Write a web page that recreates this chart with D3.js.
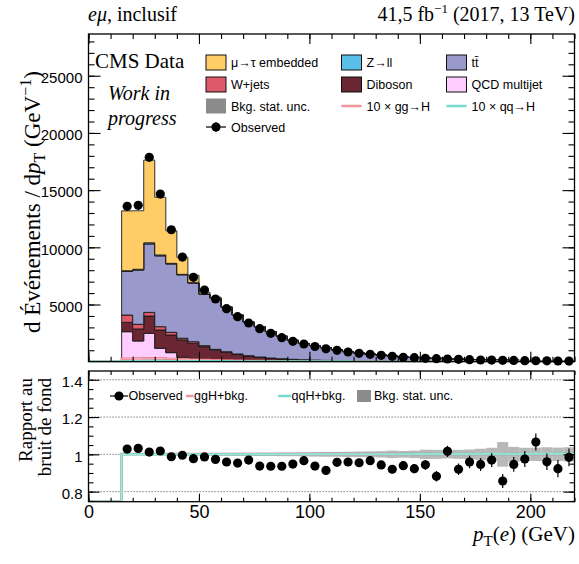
<!DOCTYPE html>
<html>
<head>
<meta charset="utf-8">
<script src="https://cdn.jsdelivr.net/npm/d3@7"></script>
<style>
body { margin: 0; background: #fff; }
svg { display: block; }
.serif { font-family: "Liberation Serif", "Times New Roman", serif; }
.sans, .tick text { font-family: "Liberation Sans", Arial, sans-serif; }
</style>
</head>
<body>
<div id="chart"></div>
<script>
// Data: 5 GeV bins from 15 to 220 GeV
var binLow = d3.range(15, 220, 5);
var binWidth = 5;

var observed = [13580, 13670, 17865, 14657, 11537, 9151, 7377, 6267, 5480, 4632,
  3933, 3382, 2884, 2482, 2098, 1783, 1547, 1328, 1127, 996,
  848, 734, 647, 559, 472, 385, 350, 297, 262, 236,
  210, 175, 149, 140, 122, 114, 87, 82, 78, 61, 58];

var qcd = [2620, 1810, 2480, 1170, 790, 390, 210, 120, 80, 60,
  45, 35, 28, 22, 18, 15, 12, 10, 8, 7,
  6, 5, 4, 4, 3, 3, 2, 2, 2, 2,
  1, 1, 1, 1, 1, 1, 1, 1, 1, 1, 1];
var diboson = [820, 1050, 1510, 1600, 1540, 1510, 1400, 1190, 930, 760,
  590, 455, 353, 276, 224, 177, 145, 120, 100, 85,
  70, 60, 50, 42, 36, 30, 26, 22, 19, 16,
  14, 12, 10, 9, 8, 7, 6, 5, 5, 4, 4];
var wjets = [640, 410, 320, 290, 240, 150, 140, 90, 70, 50,
  40, 35, 30, 25, 20, 18, 15, 12, 10, 9,
  8, 7, 6, 5, 5, 4, 4, 3, 3, 3,
  2, 2, 2, 2, 2, 2, 1, 1, 1, 1, 1];
var ttbar = [3810, 4730, 5980, 6190, 5970, 5540, 5120, 4490, 4450, 3890,
  3400, 2930, 2640, 2300, 1960, 1655, 1415, 1265, 1105, 935,
  795, 690, 605, 540, 465, 375, 340, 290, 270, 215,
  210, 170, 150, 135, 130, 112, 85, 75, 75, 62, 56];
var zll = [60, 80, 100, 80, 60, 50, 40, 30, 25, 20,
  15, 12, 10, 8, 7, 6, 5, 4, 4, 3,
  3, 2, 2, 2, 2, 1, 1, 1, 1, 1,
  1, 1, 1, 1, 1, 1, 1, 1, 1, 1, 1];
var embedded = [5240, 5120, 7230, 5040, 2850, 1490, 650, 140, 80, 50,
  35, 25, 20, 15, 12, 10, 8, 6, 5, 4,
  3, 3, 2, 2, 2, 1, 1, 1, 1, 1,
  1, 1, 1, 1, 1, 1, 1, 1, 1, 1, 1];

// signal x10
var ggH10 = [270, 290, 300, 280, 250, 210, 180, 150, 125, 105,
  90, 75, 62, 52, 44, 37, 31, 26, 22, 18,
  15, 13, 11, 9, 8, 7, 6, 5, 4, 4,
  3, 3, 2, 2, 2, 2, 1, 1, 1, 1, 1];
var qqH10 = [45, 50, 55, 55, 52, 48, 45, 42, 38, 35,
  32, 29, 26, 23, 21, 19, 17, 15, 13, 12,
  11, 10, 9, 8, 7, 6, 6, 5, 5, 4,
  4, 3, 3, 3, 3, 2, 2, 2, 2, 2, 2];

// ratio panel
var ratio = [1.028, 1.032, 1.012, 1.018, 0.987, 0.995, 0.977, 0.986, 0.973, 0.959,
  0.953, 0.969, 0.937, 0.936, 0.936, 0.948, 0.966, 0.937, 0.914, 0.957,
  0.959, 0.955, 0.966, 0.943, 0.920, 0.939, 0.923, 0.944, 0.882, 1.016,
  0.920, 0.959, 0.946, 0.969, 0.857, 0.946, 0.975, 1.066, 0.960, 0.923, 0.984];
var ratioErr = [0.004, 0.004, 0.004, 0.004, 0.005, 0.005, 0.006, 0.006, 0.007, 0.007,
  0.008, 0.009, 0.010, 0.010, 0.011, 0.012, 0.013, 0.014, 0.015, 0.016,
  0.017, 0.018, 0.019, 0.020, 0.021, 0.023, 0.024, 0.026, 0.028, 0.030,
  0.031, 0.033, 0.035, 0.037, 0.038, 0.040, 0.043, 0.046, 0.044, 0.046, 0.048];
var bkgUnc = [0.004, 0.004, 0.004, 0.004, 0.005, 0.005, 0.006, 0.006, 0.007, 0.007,
  0.008, 0.008, 0.009, 0.009, 0.010, 0.010, 0.011, 0.012, 0.013, 0.013,
  0.014, 0.015, 0.016, 0.017, 0.020, 0.018, 0.020, 0.025, 0.024, 0.022,
  0.024, 0.026, 0.030, 0.035, 0.066, 0.040, 0.035, 0.036, 0.038, 0.036, 0.038];

var xTicks = [0, 50, 100, 150, 200];
var yTicks = [5000, 10000, 15000, 20000, 25000];
var rTicks = [0.8, 1, 1.2, 1.4];

var keys = ['qcd', 'diboson', 'wjets', 'ttbar', 'zll', 'embedded'];
var colors = {
  embedded: '#ffcc66', zll: '#5cbfe8', ttbar: '#9999cc',
  wjets: '#de5a6a', diboson: '#6b2633', qcd: '#ffccff'
};

// Table built from the arrays
var series = { qcd: qcd, diboson: diboson, wjets: wjets, ttbar: ttbar, zll: zll, embedded: embedded };
var bins = binLow.map(function (lo, i) {
  var row = { lo: lo, hi: lo + binWidth, obs: observed[i], ratio: ratio[i], err: ratioErr[i], unc: bkgUnc[i],
    ggH: ggH10[i], qqH: qqH10[i] };
  keys.forEach(function (k) { row[k] = series[k][i]; });
  row.total = d3.sum(keys, function (k) { return row[k]; });
  return row;
});

// Layout
var width = 579, height = 564;
var left = 88.5, right = 574.5;
var topY0 = 34, topY1 = 361.7;
var ratY0 = 371, ratY1 = 501.7;

var svg = d3.select('#chart').append('svg')
  .attr('width', width)
  .attr('height', height);

var x = d3.scaleLinear().domain([0, 220]).range([left, right]);
var y = d3.scaleLinear().domain([0, 28650]).range([topY1, topY0]);
var yr = d3.scaleLinear().domain([0.746, 1.447]).range([ratY1, ratY0]);

var defs = svg.append('defs');
defs.append('clipPath').attr('id', 'clipTop').append('rect')
  .attr('x', left).attr('y', topY0).attr('width', right - left).attr('height', topY1 - topY0);
defs.append('clipPath').attr('id', 'clipRat').append('rect')
  .attr('x', left).attr('y', ratY0).attr('width', right - left).attr('height', ratY1 - ratY0);

// step helper: repeat last bin at its upper edge
function stepped(arr) {
  var last = arr[arr.length - 1];
  return arr.concat([Object.assign({}, last, { lo: last.hi })]);
}

// ---------- Top panel ----------
var gTop = svg.append('g').attr('clip-path', 'url(#clipTop)');

var stackData = d3.stack().keys(keys)(bins);

var area = d3.area()
  .curve(d3.curveStepAfter)
  .x(function (d) { return x(d.data.lo); })
  .y0(function (d) { return y(d[0]); })
  .y1(function (d) { return y(d[1]); });

stackData.forEach(function (layer) {
  var pts = layer.map(function (d) { return d; });
  var last = pts[pts.length - 1];
  var extra = [last[0], last[1]];
  extra.data = { lo: last.data.hi };
  pts.push(extra);
  gTop.append('path')
    .datum(pts)
    .attr('d', area)
    .attr('fill', colors[layer.key])
    .attr('stroke', '#1a1a1a')
    .attr('stroke-width', 0.9)
    .attr('stroke-linejoin', 'miter');
});

// bkg stat unc in top panel
gTop.selectAll('rect.unc')
  .data(bins)
  .enter()
  .append('rect')
  .attr('class', 'unc')
  .attr('x', function (d) { return x(d.lo); })
  .attr('width', function (d) { return x(d.hi) - x(d.lo); })
  .attr('y', function (d) { return y(d.total * (1 + d.unc)); })
  .attr('height', function (d) { return y(d.total * (1 - d.unc)) - y(d.total * (1 + d.unc)); })
  .attr('fill', '#888')
  .attr('opacity', 0.5);

// signal lines, drawn from 0 GeV
function sigLine(key, yScale, valueFn, floor) {
  var pts = [{ lo: 0, v: floor }].concat(stepped(bins).map(function (d) { return { lo: d.lo, v: valueFn(d) }; }));
  return d3.line()
    .curve(d3.curveStepAfter)
    .x(function (d) { return x(d.lo); })
    .y(function (d) { return yScale(Math.max(d.v, floor)); })(pts);
}

function drawSig(g, dPath, col, light) {
  g.append('path').attr('d', dPath).attr('fill', 'none').attr('stroke', col).attr('stroke-width', 2.4);
  g.append('path').attr('d', dPath).attr('fill', 'none').attr('stroke', light).attr('stroke-width', 0.8);
}

drawSig(gTop, sigLine('ggH', y, function (d) { return d.ggH; }, 0), '#e87880', '#f7c4c6');
drawSig(gTop, sigLine('qqH', y, function (d) { return d.qqH; }, 0), '#4fcdb9', '#b9efe6');

// observed points
var gObs = svg.append('g');
gObs.selectAll('line.err')
  .data(bins)
  .enter()
  .append('line')
  .attr('x1', function (d) { return x(d.lo + binWidth / 2); })
  .attr('x2', function (d) { return x(d.lo + binWidth / 2); })
  .attr('y1', function (d) { return y(d.obs * (1 + d.err)); })
  .attr('y2', function (d) { return y(d.obs * (1 - d.err)); })
  .attr('stroke', '#000')
  .attr('stroke-width', 1.2);
gObs.selectAll('circle')
  .data(bins)
  .enter()
  .append('circle')
  .attr('cx', function (d) { return x(d.lo + binWidth / 2); })
  .attr('cy', function (d) { return y(d.obs); })
  .attr('r', 4.6)
  .attr('fill', '#000');

// ---------- Ratio panel ----------
var gRat = svg.append('g').attr('clip-path', 'url(#clipRat)');

gRat.selectAll('line.grid')
  .data(rTicks)
  .enter()
  .append('line')
  .attr('x1', left).attr('x2', right)
  .attr('y1', function (d) { return yr(d); })
  .attr('y2', function (d) { return yr(d); })
  .attr('stroke', '#333')
  .attr('stroke-width', 0.8)
  .attr('stroke-dasharray', '1.2,1.8');

gRat.selectAll('rect.unc')
  .data(bins)
  .enter()
  .append('rect')
  .attr('x', function (d) { return x(d.lo); })
  .attr('width', function (d) { return x(d.hi) - x(d.lo); })
  .attr('y', function (d) { return yr(1 + d.unc); })
  .attr('height', function (d) { return yr(1 - d.unc) - yr(1 + d.unc); })
  .attr('fill', '#a6a6a6')
  .attr('opacity', 0.8);

var rFloor = 0.746;
drawSig(gRat, sigLine('ggH', yr, function (d) { return 1 + d.ggH / 10 / d.total; }, rFloor), '#e87880', '#f7c4c6');
drawSig(gRat, sigLine('qqH', yr, function (d) { return 1 + d.qqH / 10 / d.total; }, rFloor), '#6fd6c6', '#c4f1ea');

var gRObs = svg.append('g').attr('clip-path', 'url(#clipRat)');
gRObs.selectAll('line')
  .data(bins)
  .enter()
  .append('line')
  .attr('x1', function (d) { return x(d.lo + binWidth / 2); })
  .attr('x2', function (d) { return x(d.lo + binWidth / 2); })
  .attr('y1', function (d) { return yr(d.ratio + d.err); })
  .attr('y2', function (d) { return yr(d.ratio - d.err); })
  .attr('stroke', '#000')
  .attr('stroke-width', 1.2);
gRObs.selectAll('circle')
  .data(bins)
  .enter()
  .append('circle')
  .attr('cx', function (d) { return x(d.lo + binWidth / 2); })
  .attr('cy', function (d) { return yr(d.ratio); })
  .attr('r', 4.6)
  .attr('fill', '#000');

// ---------- Frames and axes ----------
function frame(y0, y1) {
  svg.append('rect')
    .attr('x', left).attr('y', y0)
    .attr('width', right - left).attr('height', y1 - y0)
    .attr('fill', 'none').attr('stroke', '#000').attr('stroke-width', 1.3);
}
frame(topY0, topY1);
frame(ratY0, ratY1);

var xMinor = d3.range(0, 221, 10);

function ticksOnly(axis, transform) {
  var g = svg.append('g').attr('transform', transform).call(axis);
  g.select('.domain').remove();
  g.selectAll('.tick line').attr('stroke', '#000').attr('stroke-width', 1.1);
  return g;
}

// top panel x ticks (no labels)
ticksOnly(d3.axisBottom(x).tickValues(xTicks).tickSize(-10).tickFormat(''), 'translate(0,' + topY1 + ')');
ticksOnly(d3.axisBottom(x).tickValues(xMinor).tickSize(-5).tickFormat(''), 'translate(0,' + topY1 + ')');
ticksOnly(d3.axisTop(x).tickValues(xTicks).tickSize(-10).tickFormat(''), 'translate(0,' + topY0 + ')');
ticksOnly(d3.axisTop(x).tickValues(xMinor).tickSize(-5).tickFormat(''), 'translate(0,' + topY0 + ')');

// top panel y ticks
var yMinor = d3.range(1000, 28651, 1000);
var gy = ticksOnly(d3.axisLeft(y).tickValues(yTicks).tickSize(-12).tickPadding(6).tickFormat(d3.format('d')), 'translate(' + left + ',0)');
gy.selectAll('.tick text').attr('font-size', 15).attr('fill', '#000').attr('dy', '0.45em');
ticksOnly(d3.axisLeft(y).tickValues(yMinor).tickSize(-6).tickFormat(''), 'translate(' + left + ',0)');
ticksOnly(d3.axisRight(y).tickValues(yTicks).tickSize(-12).tickFormat(''), 'translate(' + right + ',0)');
ticksOnly(d3.axisRight(y).tickValues(yMinor).tickSize(-6).tickFormat(''), 'translate(' + right + ',0)');

// ratio panel x ticks with labels
var gx = ticksOnly(d3.axisBottom(x).tickValues(xTicks).tickSize(-8).tickPadding(4).tickFormat(d3.format('d')), 'translate(0,' + ratY1 + ')');
gx.selectAll('.tick text').attr('font-size', 18).attr('fill', '#000');
ticksOnly(d3.axisBottom(x).tickValues(xMinor).tickSize(-4).tickFormat(''), 'translate(0,' + ratY1 + ')');
ticksOnly(d3.axisTop(x).tickValues(xTicks).tickSize(-8).tickFormat(''), 'translate(0,' + ratY0 + ')');
ticksOnly(d3.axisTop(x).tickValues(xMinor).tickSize(-4).tickFormat(''), 'translate(0,' + ratY0 + ')');

// ratio panel y ticks
var rMinor = d3.range(0.75, 1.45, 0.05);
var gyr = ticksOnly(d3.axisLeft(yr).tickValues(rTicks).tickSize(-11).tickPadding(6).tickFormat(function (d) { return d === 1 ? '1' : d3.format('.1f')(d); }), 'translate(' + left + ',0)');
gyr.selectAll('.tick text').attr('font-size', 15).attr('fill', '#000').attr('dy', '0.45em');
ticksOnly(d3.axisLeft(yr).tickValues(rMinor).tickSize(-5).tickFormat(''), 'translate(' + left + ',0)');
ticksOnly(d3.axisRight(yr).tickValues(rTicks).tickSize(-11).tickFormat(''), 'translate(' + right + ',0)');
ticksOnly(d3.axisRight(yr).tickValues(rMinor).tickSize(-5).tickFormat(''), 'translate(' + right + ',0)');

// ---------- Texts ----------
var t1 = svg.append('text').attr('class', 'serif').attr('x', 88).attr('y', 21).attr('font-size', 20);
t1.append('tspan').attr('font-style', 'italic').text('eμ');
t1.append('tspan').text(', inclusif');

var t2 = svg.append('text').attr('class', 'serif').attr('x', 575).attr('y', 21).attr('font-size', 20).attr('text-anchor', 'end');
t2.append('tspan').text('41,5 fb');
t2.append('tspan').attr('font-size', 13).attr('dy', -8).text('−1');
t2.append('tspan').attr('dy', 8).text(' (2017, 13 TeV)');

svg.append('text').attr('class', 'serif').attr('x', 95).attr('y', 68).attr('font-size', 21).text('CMS Data');
svg.append('text').attr('class', 'serif').attr('x', 108).attr('y', 100).attr('font-size', 20).attr('font-style', 'italic').text('Work  in');
svg.append('text').attr('class', 'serif').attr('x', 108).attr('y', 125).attr('font-size', 20).attr('font-style', 'italic').text('progress');

// y title
var yt = svg.append('text').attr('class', 'serif')
  .attr('transform', 'translate(40,333) rotate(-90)')
  .attr('font-size', 23);
yt.append('tspan').text('d Événements / d');
yt.append('tspan').attr('font-style', 'italic').text('p');
yt.append('tspan').attr('font-size', 16).attr('dy', 5).text('T');
yt.append('tspan').attr('dy', -5).text(' (GeV');
yt.append('tspan').attr('font-size', 16).attr('dy', -9).text('−1');
yt.append('tspan').attr('dy', 9).text(')');

var rt = svg.append('text').attr('class', 'serif')
  .attr('transform', 'translate(32,378) rotate(-90)')
  .attr('font-size', 19).attr('text-anchor', 'end');
rt.text('Rapport au');
svg.append('text').attr('class', 'serif')
  .attr('transform', 'translate(51,378) rotate(-90)')
  .attr('font-size', 19).attr('text-anchor', 'end')
  .text('bruit de fond');

var xt = svg.append('text').attr('class', 'serif').attr('x', 575).attr('y', 541).attr('font-size', 21).attr('text-anchor', 'end');
xt.append('tspan').attr('font-style', 'italic').text('p');
xt.append('tspan').attr('font-size', 15).attr('dy', 5).text('T');
xt.append('tspan').attr('dy', -5).text('(');
xt.append('tspan').attr('font-style', 'italic').text('e');
xt.append('tspan').text(')  (GeV)');

// ---------- Legends ----------
var legendItems = [
  { label: 'μ→τ embedded', type: 'box', color: colors.embedded, col: 0, row: 0 },
  { label: 'Z→ll', type: 'box', color: colors.zll, col: 1, row: 0 },
  { label: 'tt̄', type: 'box', color: colors.ttbar, col: 2, row: 0 },
  { label: 'W+jets', type: 'box', color: colors.wjets, col: 0, row: 1 },
  { label: 'Diboson', type: 'box', color: colors.diboson, col: 1, row: 1 },
  { label: 'QCD multijet', type: 'box', color: colors.qcd, col: 2, row: 1 },
  { label: 'Bkg. stat. unc.', type: 'unc', color: '#8c8c8c', col: 0, row: 2 },
  { label: '10 × gg→H', type: 'line', color: '#e87880', light: '#f7c4c6', col: 1, row: 2 },
  { label: '10 × qq→H', type: 'line', color: '#4fcdb9', light: '#b9efe6', col: 2, row: 2 },
  { label: 'Observed', type: 'obs', col: 0, row: 3 }
];
var colX = [206, 341.5, 446.5];
var rowY = [62.5, 84.5, 106, 127];

function legendSymbol(g, d, cx, cy) {
  if (d.type === 'box') {
    g.append('rect').attr('x', cx).attr('y', cy - 7.5).attr('width', 20).attr('height', 15)
      .attr('fill', d.color).attr('stroke', '#111').attr('stroke-width', 1);
  } else if (d.type === 'unc') {
    g.append('rect').attr('x', cx).attr('y', cy - 7.5).attr('width', 20).attr('height', 15).attr('fill', d.color);
  } else if (d.type === 'line') {
    g.append('line').attr('x1', cx).attr('x2', cx + 20).attr('y1', cy).attr('y2', cy).attr('stroke', d.color).attr('stroke-width', 2.4);
    g.append('line').attr('x1', cx).attr('x2', cx + 20).attr('y1', cy).attr('y2', cy).attr('stroke', d.light).attr('stroke-width', 0.8);
  } else {
    g.append('line').attr('x1', cx).attr('x2', cx + 20).attr('y1', cy).attr('y2', cy).attr('stroke', '#000').attr('stroke-width', 1.2);
    g.append('line').attr('x1', cx + 10).attr('x2', cx + 10).attr('y1', cy - 5).attr('y2', cy + 5).attr('stroke', '#000').attr('stroke-width', 1.2);
    g.append('circle').attr('cx', cx + 10).attr('cy', cy).attr('r', 4.6).attr('fill', '#000');
  }
}

var gLeg = svg.append('g');
legendItems.forEach(function (d) {
  var cx = colX[d.col], cy = rowY[d.row];
  legendSymbol(gLeg, d, cx, cy);
  gLeg.append('text').attr('class', 'sans').attr('x', cx + 25).attr('y', cy + 4.5)
    .attr('font-size', 12.5).attr('fill', '#000').text(d.label);
});

// ratio legend
var ratioLegend = [
  { label: 'Observed', type: 'obs', x: 110, w: 18 },
  { label: 'ggH+bkg.', type: 'line', color: '#e87880', light: '#f7c4c6', x: 186, w: 7.5 },
  { label: 'qqH+bkg.', type: 'line', color: '#4fcdb9', light: '#b9efe6', x: 278, w: 13 },
  { label: 'Bkg. stat. unc.', type: 'unc', color: '#8c8c8c', x: 357, w: 14 }
];
var gRLeg = svg.append('g');
ratioLegend.forEach(function (d) {
  var cy = 396;
  if (d.type === 'unc') {
    gRLeg.append('rect').attr('x', d.x).attr('y', cy - 6).attr('width', d.w).attr('height', 12).attr('fill', d.color);
    gRLeg.append('text').attr('class', 'sans').attr('x', d.x + d.w + 3).attr('y', cy + 4.3).attr('font-size', 12.5).text(d.label);
  } else if (d.type === 'line') {
    gRLeg.append('line').attr('x1', d.x).attr('x2', d.x + d.w).attr('y1', cy).attr('y2', cy).attr('stroke', d.color).attr('stroke-width', 2.4);
    gRLeg.append('line').attr('x1', d.x).attr('x2', d.x + d.w).attr('y1', cy).attr('y2', cy).attr('stroke', d.light).attr('stroke-width', 0.8);
    gRLeg.append('text').attr('class', 'sans').attr('x', d.x + d.w + 0.5).attr('y', cy + 4.3).attr('font-size', 12.5).text(d.label);
  } else {
    gRLeg.append('line').attr('x1', d.x).attr('x2', d.x + d.w).attr('y1', cy).attr('y2', cy).attr('stroke', '#000').attr('stroke-width', 1.2);
    gRLeg.append('circle').attr('cx', d.x + d.w / 2).attr('cy', cy).attr('r', 4.6).attr('fill', '#000');
    gRLeg.append('text').attr('class', 'sans').attr('x', d.x + d.w + 0.5).attr('y', cy + 4.3).attr('font-size', 12.5).text(d.label);
  }
});
</script>
</body>
</html>
